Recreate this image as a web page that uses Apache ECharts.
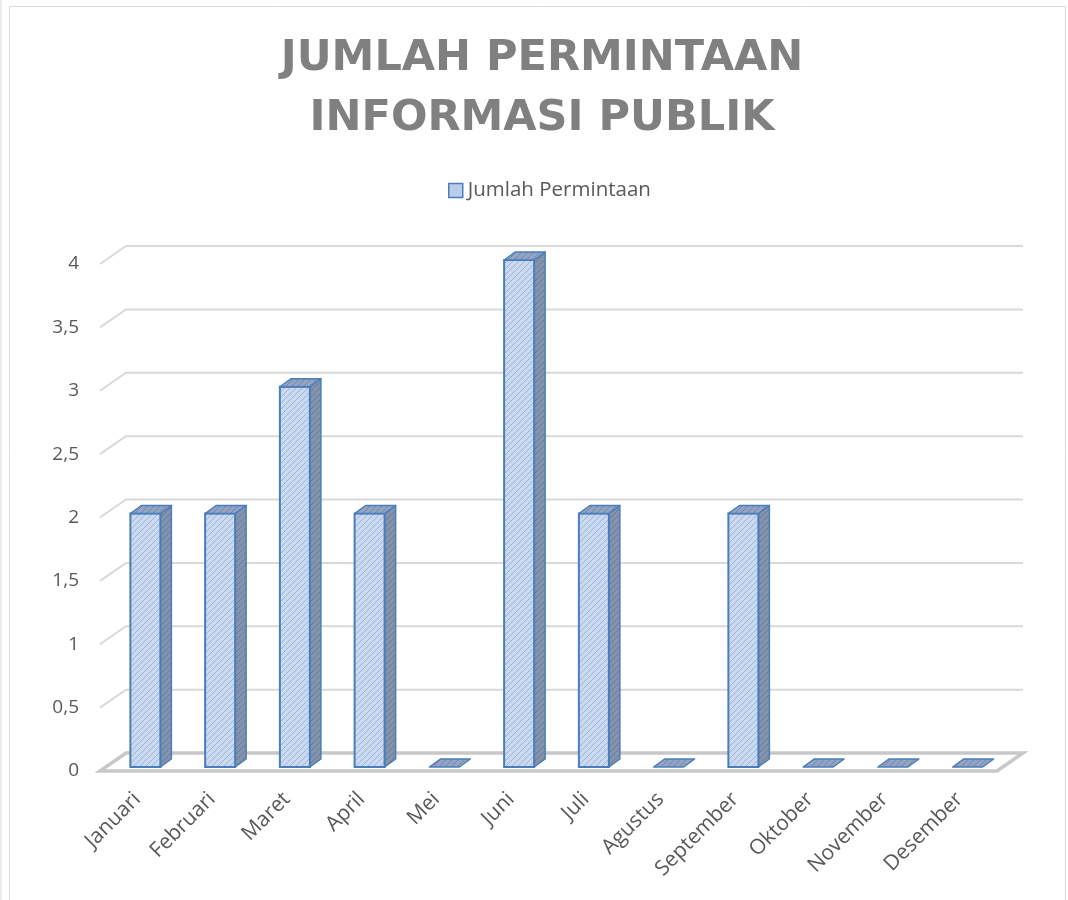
<!DOCTYPE html>
<html>
<head>
    <meta charset="UTF-8">
    <title>Jumlah Permintaan Informasi Publik</title>
    <script src="https://cdn.jsdelivr.net/npm/echarts@6/dist/echarts.min.js"></script>
    <style>
        html, body { margin: 0; padding: 0; background: #fff; }
        #main { width: 1068px; height: 900px; }
    </style>
</head>
<body>
<div id="main"></div>
<script type="text/javascript">
    // data
    var months = ['Januari', 'Februari', 'Maret', 'April', 'Mei', 'Juni', 'Juli',
        'Agustus', 'September', 'Oktober', 'November', 'Desember'];
    var jumlahPermintaan = [2, 2, 3, 2, 0, 4, 2, 0, 2, 0, 0, 0];
    var yTicks = [0, 0.5, 1, 1.5, 2, 2.5, 3, 3.5, 4];
    var seriesName = 'Jumlah Permintaan';

    // 3d offsets (pixels)
    var wallDx = 26, wallDy = 18;   // depth of back wall
    var barOx = 8, barOy = 4;       // bar position inside the depth
    var barDx = 11, barDy = 8;      // bar depth

    // hatch pattern (upward diagonal)
    function hatch(bg, fg) {
        var c = document.createElement('canvas');
        c.width = 6;
        c.height = 6;
        var ctx = c.getContext('2d');
        ctx.fillStyle = bg;
        ctx.fillRect(0, 0, 6, 6);
        ctx.strokeStyle = fg;
        ctx.lineWidth = 1;
        ctx.beginPath();
        ctx.moveTo(-1, 7); ctx.lineTo(7, -1);
        ctx.moveTo(-4, 4); ctx.lineTo(4, -4);
        ctx.moveTo(2, 10); ctx.lineTo(10, 2);
        ctx.stroke();
        return {image: c, repeat: 'repeat'};
    }
    var frontFill = hatch('#cad9f0', '#9cb5db');
    var sideFill = hatch('#8393ad', '#6b7c98');
    var topFill = hatch('#91a4c3', '#7488aa');
    var edge = '#4a7ebb';

    var myChart = echarts.init(document.getElementById('main'));

    var option = {
        backgroundColor: '#fff',
        animation: false,
        title: {
            text: 'JUMLAH PERMINTAAN\nINFORMASI PUBLIK',
            left: 537,
            top: 24,
            textAlign: 'center',
            textStyle: {
                fontFamily: 'DejaVu Sans',
                fontWeight: 'bold',
                fontSize: 43,
                lineHeight: 60,
                color: '#808080'
            }
        },
        legend: {
            left: 443,
            top: 175,
            itemWidth: 14,
            itemHeight: 14,
            textStyle: {
                fontFamily: 'Open Sans',
                fontSize: 20.5,
                color: '#595959'
            },
            data: [{
                name: seriesName,
                icon: 'rect',
                itemStyle: {color: '#b9cdea', borderColor: edge, borderWidth: 1.5}
            }]
        },
        graphic: [{
            type: 'rect',
            shape: {x: 9.5, y: 6.5, width: 1056, height: 900},
            style: {fill: 'none', stroke: '#d9d9d9', lineWidth: 1}
        }, {
            type: 'line',
            shape: {x1: 1, y1: 0, x2: 1, y2: 900},
            style: {stroke: '#d9d9d9', lineWidth: 1}
        }],
        grid: {
            left: 100,
            right: 71,
            top: 264,
            bottom: 129
        },
        xAxis: {
            type: 'category',
            data: months,
            axisLine: {show: false},
            axisTick: {show: false},
            axisLabel: {
                rotate: 45,
                margin: 25,
                interval: 0,
                fontFamily: 'Open Sans',
                fontSize: 21,
                color: '#595959'
            }
        },
        yAxis: {
            type: 'value',
            min: 0,
            max: 4,
            interval: 0.5,
            axisLine: {show: false},
            axisTick: {show: false},
            splitLine: {show: false},
            axisLabel: {
                margin: 21,
                fontFamily: 'Open Sans',
                fontSize: 19,
                color: '#595959',
                formatter: function (v) {
                    return String(v).replace('.', ',');
                }
            }
        },
        series: [
            {
                // walls and floor
                type: 'custom',
                silent: true,
                z: 1,
                data: yTicks.map(function (v) { return [0, v]; }),
                renderItem: function (params, api) {
                    var cs = params.coordSys;
                    var x0 = cs.x, x1 = cs.x + cs.width;
                    var y = api.coord([0, api.value(1)])[1];
                    if (api.value(1) === 0) {
                        return {
                            type: 'polygon',
                            shape: {points: [[x0, y], [x0 + wallDx, y - wallDy], [x1 + wallDx, y - wallDy], [x1, y]]},
                            style: {fill: 'none', stroke: '#c8c8c8', lineWidth: 3.5}
                        };
                    }
                    return {
                        type: 'polyline',
                        shape: {points: [[x0, y], [x0 + wallDx, y - wallDy], [x1 + wallDx, y - wallDy]]},
                        style: {fill: 'none', stroke: '#d9d9d9', lineWidth: 2}
                    };
                }
            },
            {
                name: seriesName,
                type: 'custom',
                z: 2,
                itemStyle: {color: '#b9cdea'},
                data: jumlahPermintaan.map(function (v, i) { return [i, v]; }),
                renderItem: function (params, api) {
                    var top = api.coord([api.value(0), api.value(1)]);
                    var base = api.coord([api.value(0), 0]);
                    var w = 30;
                    var xl = top[0] - w / 2 + barOx, xr = xl + w;
                    var yt = top[1] - barOy, yb = base[1] - barOy;
                    var children = [];
                    if (yb - yt > 0.5) {
                        children.push({
                            type: 'polygon',
                            shape: {points: [[xr, yt], [xr + barDx, yt - barDy], [xr + barDx, yb - barDy], [xr, yb]]},
                            style: {fill: sideFill, stroke: edge, lineWidth: 1.5, lineJoin: 'round'}
                        });
                        children.push({
                            type: 'rect',
                            shape: {x: xl, y: yt, width: w, height: yb - yt},
                            style: {fill: frontFill, stroke: edge, lineWidth: 2}
                        });
                    }
                    children.push({
                        type: 'polygon',
                        shape: {points: [[xl, yt], [xl + barDx, yt - barDy], [xr + barDx, yt - barDy], [xr, yt]]},
                        style: {fill: topFill, stroke: edge, lineWidth: 1.5, lineJoin: 'round'}
                    });
                    return {type: 'group', children: children};
                }
            }
        ]
    };
    myChart.setOption(option);
</script>
</body>
</html>
